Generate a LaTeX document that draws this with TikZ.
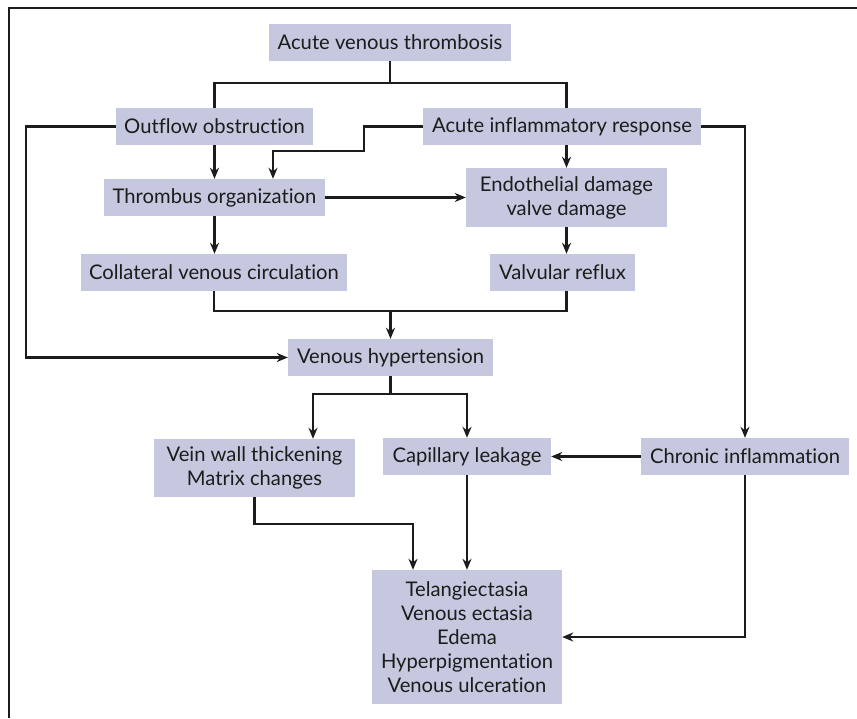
\documentclass[tikz,border=0pt]{standalone}
\usepackage{fontspec}
\setmainfont{Lato}[Ligatures=NoCommon]
\usetikzlibrary{arrows.meta}
\definecolor{boxfill}{RGB}{197,200,222}
\definecolor{inkblack}{RGB}{28,28,28}
\tikzset{
  box/.style={fill=boxfill, text=inkblack, inner xsep=8pt, inner ysep=0pt,
    minimum height=37pt, align=center, font=\fontsize{20.2}{24}\selectfont},
  line/.style={line width=2.4pt, draw=inkblack},
  arr/.style={line, -{Stealth[length=11pt,width=9pt,inset=3.5pt]}},
}
\begin{document}
\begin{tikzpicture}[x=1pt,y=-1pt]
\useasboundingbox (0,0) rectangle (857,718);
    %Marco
    \draw[line] (9,718) -- (9,8) -- (857,8);

    %Cajas
    \node[box, minimum width=242pt] (avt) at (390,42.5) {Acute venous thrombosis};
    \node[box, minimum width=197pt] (oo) at (214.5,126.5) {Outflow obstruction};
    \node[box, minimum width=278pt] (air) at (562,126.5) {Acute inflammatory response};
    \node[box, minimum width=221pt] (to) at (214.5,197.5) {Thrombus organization};
    \node[box, minimum width=201pt, minimum height=59pt] (ed) at (566.5,197.5) {Endothelial damage\\valve damage};
    \node[box, minimum width=266pt] (cvc) at (214,272.5) {Collateral venous circulation};
    \node[box, minimum width=145pt] (vr) at (562.5,272.5) {Valvular reflux};
    \node[box, minimum width=205pt] (vh) at (390.5,357.5) {Venous hypertension};
    \node[box, minimum width=201pt, minimum height=58pt] (vw) at (254.5,468) {Vein wall thickening\\Matrix changes};
    \node[box, minimum width=168pt] (cl) at (467,456.5) {Capillary leakage};
    \node[box, minimum width=208pt] (ci) at (745,456.5) {Chronic inflammation};
    \node[box, minimum width=190pt, minimum height=134pt] (sym) at (467,637)
        {Telangiectasia\\Venous ectasia\\Edema\\Hyperpigmentation\\Venous ulceration};

    %Conectores
    \draw[line] (avt.south) -- ++(0,22);
    \draw[line] (oo.north) -- ++(0,-25) -| (ed.north |- air.north);
    \draw[arr] (oo.west) -- ++(-90,0) |- (vh.west);
    \draw[arr] (oo.south) -- (to.north);
    \draw[arr] (air.west) -- ++(-59,0) -- ++(0,24.5) -| ([xshift=58.5pt]to.north);
    \draw[arr] (to.east) -- (ed.west);
    \draw[arr] (air.south -| ed.north) -- (ed.north);
    \draw[arr] (air.east) -| (ci.north);
    \draw[arr] (to.south) -- (cvc.north -| to.south);
    \draw[arr] (ed.south) -- (vr.north -| ed.south);
    \draw[line] (cvc.south) -- ++(0,20) -| (vr.south -| ed.south);
    \draw[arr] (vh.north) ++(0,-28) -- (vh.north);
    \draw[arr] (vh.south) -- ++(0,18) -| ([xshift=58.5pt]vw.north);
    \draw[arr] (vh.south) ++(0,18) -| (cl.north);
    \draw[arr] (ci.west) -- (cl.east);
    \draw[arr] (cl.south) -- (sym.north -| cl.south);
    \draw[arr] (vw.south) -- ++(0,27) -| ([xshift=-54pt]sym.north);
    \draw[arr] (ci.south) |- (sym.east);
\end{tikzpicture}
\end{document}
